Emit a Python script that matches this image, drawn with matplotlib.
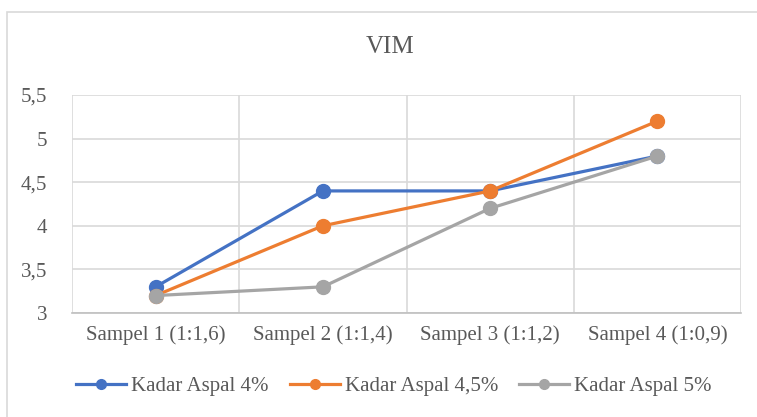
import matplotlib
matplotlib.use('Agg')
import matplotlib.pyplot as plt
from matplotlib.patches import Rectangle

plt.rcParams['font.family'] = ['Liberation Serif', 'DejaVu Serif']

# Data
categories = ['Sampel 1 (1:1,6)', 'Sampel 2 (1:1,4)', 'Sampel 3 (1:1,2)', 'Sampel 4 (1:0,9)']
aspal_4 = [3.3, 4.4, 4.4, 4.8]
aspal_45 = [3.2, 4.0, 4.4, 5.2]
aspal_5 = [3.2, 3.3, 4.2, 4.8]
series_names = ['Kadar Aspal 4%', 'Kadar Aspal 4,5%', 'Kadar Aspal 5%']
yticks = [3, 3.5, 4, 4.5, 5, 5.5]
ytick_labels = ['3', '3,5', '4', '4,5', '5', '5,5']

colors = ['#4472C4', '#ED7D31', '#A5A5A5']
text_color = '#595959'
grid_color = '#D9D9D9'

fig = plt.figure(figsize=(7.57, 4.17), dpi=100)
ax = fig.add_axes([72 / 757, 1 - 313 / 417, (741 - 72) / 757, (313 - 95) / 417])

# outer chart border
fig.patches.append(Rectangle((7 / 757, -0.1), 1.2, 1 - 12 / 417 + 0.1,
                             transform=fig.transFigure, fill=False,
                             edgecolor=grid_color, linewidth=1.2))

x = range(len(categories))
for vals, name, c in zip([aspal_4, aspal_45, aspal_5], series_names, colors):
    ax.plot(x, vals, color=c, linewidth=2.3, marker='o', markersize=10,
            label=name, zorder=3)

ax.set_xlim(-0.5, 3.5)
ax.set_ylim(3, 5.5)
ax.set_xticks(list(x))
ax.set_xticklabels(categories)
ax.set_xticks([-0.5, 0.5, 1.5, 2.5, 3.5], minor=True)
ax.set_yticks(yticks)
ax.set_yticklabels(ytick_labels)

ax.tick_params(axis='both', which='both', length=0, colors=text_color, labelsize=15)
ax.tick_params(axis='x', pad=9)
ax.tick_params(axis='y', pad=18)

ax.grid(axis='y', which='major', color=grid_color, linewidth=1.2)
ax.grid(axis='x', which='minor', color=grid_color, linewidth=1.2)
for s in ['top', 'right', 'left']:
    ax.spines[s].set_visible(False)
ax.spines['bottom'].set_color('#BFBFBF')
ax.spines['bottom'].set_linewidth(1.2)
ax.set_axisbelow(True)

fig.text(390 / 757, 1 - 47 / 417, 'VIM', ha='center', va='center',
         fontsize=18, color=text_color)

ax.legend(loc='center', bbox_to_anchor=(394 / 757, 1 - 386 / 417),
          bbox_transform=fig.transFigure, ncol=3, frameon=False,
          fontsize=15, handlelength=2.4, handletextpad=0.25, columnspacing=1.0,
          labelcolor=text_color, markerscale=0.7)

fig.savefig('out.png', dpi=100)
